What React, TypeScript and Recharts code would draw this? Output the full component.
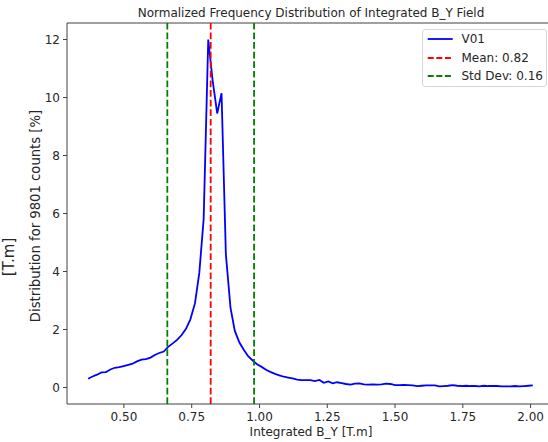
import React from 'react';
import { LineChart, Line, XAxis, YAxis, ReferenceLine, Legend, Label } from 'recharts';

const binCenters = [
  0.368, 0.384, 0.401, 0.417, 0.434, 0.450, 0.466, 0.483, 0.499, 0.516,
  0.532, 0.548, 0.565, 0.581, 0.598, 0.614, 0.630, 0.647, 0.663, 0.680,
  0.696, 0.712, 0.729, 0.745, 0.762, 0.778, 0.794, 0.811, 0.827, 0.844,
  0.860, 0.876, 0.893, 0.909, 0.926, 0.942, 0.958, 0.975, 0.991, 1.008,
  1.024, 1.040, 1.057, 1.073, 1.090, 1.106, 1.122, 1.139, 1.155, 1.172,
  1.188, 1.204, 1.221, 1.237, 1.254, 1.270, 1.286, 1.303, 1.319, 1.336,
  1.352, 1.368, 1.385, 1.401, 1.418, 1.434, 1.450, 1.467, 1.483, 1.500,
  1.516, 1.532, 1.549, 1.565, 1.582, 1.598, 1.614, 1.631, 1.647, 1.664,
  1.680, 1.696, 1.713, 1.729, 1.746, 1.762, 1.778, 1.795, 1.811, 1.828,
  1.844, 1.860, 1.877, 1.893, 1.910, 1.926, 1.942, 1.959, 1.975, 1.992,
  2.008,
];

const distributionV01 = [
  0.30, 0.38, 0.44, 0.52, 0.53, 0.62, 0.68, 0.70, 0.74, 0.78,
  0.82, 0.90, 0.96, 0.98, 1.03, 1.12, 1.19, 1.24, 1.40, 1.52,
  1.64, 1.80, 2.02, 2.35, 2.90, 3.95, 5.80, 12.0, 10.6, 9.45,
  10.15, 4.60, 2.75, 1.95, 1.55, 1.30, 1.08, 0.93, 0.80, 0.71,
  0.61, 0.54, 0.47, 0.42, 0.37, 0.34, 0.31, 0.27, 0.25, 0.25,
  0.25, 0.22, 0.26, 0.16, 0.21, 0.14, 0.18, 0.15, 0.12, 0.10,
  0.13, 0.14, 0.11, 0.10, 0.11, 0.10, 0.11, 0.13, 0.12, 0.08,
  0.08, 0.09, 0.08, 0.07, 0.05, 0.06, 0.07, 0.07, 0.07, 0.04,
  0.05, 0.06, 0.08, 0.06, 0.05, 0.06, 0.05, 0.05, 0.04, 0.06,
  0.05, 0.05, 0.05, 0.04, 0.04, 0.04, 0.05, 0.04, 0.05, 0.06,
  0.07,
];

const xTicks = [0.5, 0.75, 1.0, 1.25, 1.5, 1.75, 2.0];
const yTicks = [0, 2, 4, 6, 8, 10, 12];
const meanValue = 0.82;
const stdDevValue = 0.16;
const stdLinePositions = [0.66, 0.98];

const seriesName = 'V01';
const titleText = 'Normalized Frequency Distribution of Integrated B_Y Field';
const xLabelText = 'Integrated B_Y [T.m]';
const yLabelText = 'Distribution for 9801 counts [%]';
const yUnitText = '[T.m]';

const X_DOMAIN: [number, number] = [0.29, 2.09];
const Y_DOMAIN: [number, number] = [-0.57, 12.57];

const data = binCenters.map((x, i) => ({ x, v: distributionV01[i] }));

const FONT = '"DejaVu Sans", sans-serif';
const TEXT = '#262626';
const AXIS = '#404040';
const BLUE = '#0000ff';
const RED = '#ff0000';
const GREEN = '#008000';
const DASH = '6.7 2.9';

const legendItems = [
  { label: seriesName, color: BLUE, dashed: false },
  { label: `Mean: ${meanValue.toFixed(2)}`, color: RED, dashed: true },
  { label: `Std Dev: ${stdDevValue.toFixed(2)}`, color: GREEN, dashed: true },
];

const renderLegend = () => (
  <div
    style={{
      position: 'relative',
      width: 125,
      height: 58,
      boxSizing: 'border-box',
      border: '1px solid #d6d6d6',
      borderRadius: 3,
      background: 'rgba(255,255,255,0.8)',
      fontFamily: FONT,
      fontSize: 12,
      color: TEXT,
    }}
  >
    {legendItems.map((item, i) => (
      <div
        key={item.label}
        style={{ position: 'absolute', left: 0, top: 9.3 + i * 18.5 - 9, height: 18, width: 125 }}
      >
        <svg width={40} height={18} style={{ position: 'absolute', left: 0, top: 0 }}>
          <line
            x1={4.7}
            x2={29.7}
            y1={9}
            y2={9}
            stroke={item.color}
            strokeWidth={1.8}
            strokeDasharray={item.dashed ? '6 2.6' : undefined}
          />
        </svg>
        <span style={{ position: 'absolute', left: 38.5, top: 0, lineHeight: '18px', whiteSpace: 'nowrap' }}>
          {item.label}
        </span>
      </div>
    ))}
  </div>
);

export default function App() {
  return (
    <div style={{ position: 'absolute', left: 0, top: 0, width: 548, height: 442, overflow: 'hidden', background: '#fff' }}>
      <div
        style={{
          position: 'absolute',
          left: 0,
          top: 4,
          width: 622,
          textAlign: 'center',
          fontFamily: FONT,
          fontSize: 12,
          color: TEXT,
          lineHeight: '18px',
          whiteSpace: 'nowrap',
        }}
      >
        {titleText}
      </div>
      <LineChart
        width={560}
        height={442}
        data={data}
        margin={{ top: 23, right: 5, bottom: 0, left: 0 }}
      >
        <XAxis
          dataKey="x"
          type="number"
          domain={X_DOMAIN}
          allowDataOverflow
          ticks={xTicks}
          tickFormatter={(v: number) => v.toFixed(2)}
          height={38}
          tickSize={4}
          tickMargin={4}
          tick={{ fontFamily: FONT, fontSize: 12, fill: TEXT }}
          tickLine={{ stroke: AXIS }}
          axisLine={{ stroke: AXIS, strokeWidth: 1 }}
        >
          <Label
            content={(props: any) => {
              const vb = props.viewBox || { x: 67, y: 404, width: 488 };
              return (
                <text
                  x={vb.x + vb.width / 2}
                  y={432}
                  dy="0.36em"
                  textAnchor="middle"
                  fontFamily={FONT}
                  fontSize={12}
                  fill={TEXT}
                >
                  {xLabelText}
                </text>
              );
            }}
          />
        </XAxis>
        <YAxis
          type="number"
          domain={Y_DOMAIN}
          allowDataOverflow
          ticks={yTicks}
          width={67}
          tickSize={4}
          tickMargin={3}
          tick={{ fontFamily: FONT, fontSize: 12, fill: TEXT }}
          tickLine={{ stroke: AXIS }}
          axisLine={{ stroke: AXIS, strokeWidth: 1 }}
        >
          <Label
            content={() => (
              <g>
                <text
                  x={35}
                  y={216}
                  transform="rotate(-90 35 216)"
                  textAnchor="middle"
                  dy="0.36em"
                  fontFamily={FONT}
                  fontSize={13.2}
                  fill={TEXT}
                >
                  {yLabelText}
                </text>
                <text
                  x={9}
                  y={257}
                  transform="rotate(-90 9 257)"
                  textAnchor="middle"
                  dy="0.36em"
                  fontFamily={FONT}
                  fontSize={15}
                  fill={TEXT}
                >
                  {yUnitText}
                </text>
              </g>
            )}
          />
        </YAxis>
        <ReferenceLine y={Y_DOMAIN[1]} stroke={AXIS} strokeWidth={1} ifOverflow="extendDomain" />
        <Line
          type="linear"
          dataKey="v"
          name={seriesName}
          stroke={BLUE}
          strokeWidth={1.8}
          dot={false}
          activeDot={false}
          isAnimationActive={false}
        />
        <ReferenceLine x={meanValue} stroke={RED} strokeWidth={1.8} strokeDasharray={DASH} />
        {stdLinePositions.map((p) => (
          <ReferenceLine key={p} x={p} stroke={GREEN} strokeWidth={1.8} strokeDasharray={DASH} />
        ))}
        <Legend
          layout="vertical"
          align="center"
          verticalAlign="middle"
          content={renderLegend}
          wrapperStyle={{ position: 'absolute', left: 422, top: 29, width: 125, height: 58 }}
        />
      </LineChart>
    </div>
  );
}
